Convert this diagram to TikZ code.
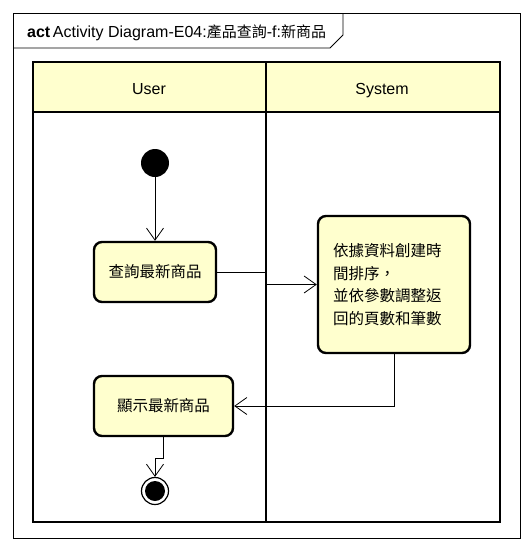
\documentclass[tikz,border=0pt]{standalone}
\usepackage{fontspec}
\setmainfont{Liberation Sans}
\newfontfamily\cjk{Noto Sans CJK TC}
\usetikzlibrary{arrows.meta,positioning}
\definecolor{actfill}{RGB}{255,255,206}
\tikzset{
	actbox/.style={draw=black,fill=actfill,line width=2.4pt,rounded corners=8pt,font=\cjk\fontsize{15.5}{22.5}\selectfont},
	flow/.style={draw=black,line width=0.8pt,-{Straight Barb[length=12pt,width=17pt,line width=0.8pt]}},
}
\begin{document}
\begin{tikzpicture}[x=1pt,y=-1pt]
	
	\useasboundingbox (0,0) rectangle (526,547);
	
	% frame and title
	\draw[line width=0.8pt] (13,13) rectangle (520,538);
	\draw[line width=0.8pt] (13,48) -- (330,48) -- (343,35) -- (343,13);
	\node[right,font=\fontsize{16}{18}\selectfont,inner sep=0pt] (title) at (27,33) {\textbf{act}\,Activity Diagram-E04:{\cjk\fontsize{15}{18}\selectfont 產品查詢}-f:{\cjk\fontsize{15}{18}\selectfont 新商品}};
	
	% swimlanes
	\filldraw[fill=actfill,draw=black,line width=2.4pt] (33,62) rectangle (500,112);
	\draw[line width=2.4pt] (33,62) rectangle (500,522);
	\draw[line width=2.4pt] (266,62) -- (266,522);
	\node[font=\fontsize{16}{18}\selectfont,anchor=base] (user) at (149,94) {User};
	\node[font=\fontsize{16}{18}\selectfont,anchor=base] (system) at (382,94) {System};
	
	% nodes
	\node[circle,fill=black,minimum size=28pt,inner sep=0pt] (init) at (155,163) {};
	\node[actbox,minimum width=122pt,minimum height=60pt] (query) at (155,272) {查詢最新商品};
	\node[actbox,minimum width=152pt,minimum height=137pt,text width=122pt,align=left] (sys) at (394,284.5) {依據資料創建時\\間排序，\\並依參數調整返\\回的頁數和筆數};
	\node[actbox,minimum width=139pt,minimum height=60pt] (disp) at (163.5,406) {顯示最新商品};
	\node[circle,draw=black,line width=1.2pt,fill=white,minimum size=27pt,inner sep=0pt] (final) at (155,491) {};
	\fill (final.center) circle (10pt);
	
	% flows
	\draw[flow] (init) -- (query);
	\draw[flow] (query.east) -- (266,272) |- (sys.west);
	\draw[flow] (sys.south) |- (disp.east);
	\draw[flow] (disp.south) -- ++(0,21) -| (final);
	
\end{tikzpicture}
\end{document}
